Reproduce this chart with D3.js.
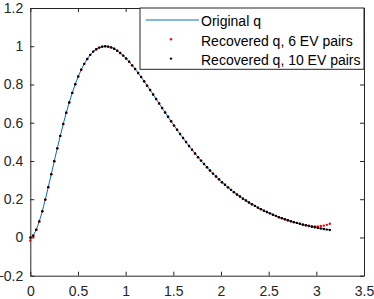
<!DOCTYPE html>
<html>
<head>
<meta charset="utf-8">
<script src="https://cdn.jsdelivr.net/npm/d3@7"></script>
<style>
  body { margin: 0; background: #fff; }
  svg { display: block; font-family: "Liberation Sans", Arial, Helvetica, sans-serif; }
</style>
</head>
<body>
<div id="chart"></div>
<script>
// sample grid: 101 points over [0, pi]
var nPts = 101,
    xMax = Math.PI;

// original potential q
var qOriginal = [
  0.000, 0.011, 0.040, 0.084, 0.137, 0.198, 0.263, 0.331, 0.399, 0.466,
  0.531, 0.593, 0.652, 0.706, 0.756, 0.801, 0.842, 0.877, 0.908, 0.933,
  0.955, 0.972, 0.984, 0.993, 0.998, 1.000, 0.998, 0.994, 0.987, 0.977,
  0.965, 0.951, 0.936, 0.919, 0.900, 0.881, 0.860, 0.839, 0.817, 0.794,
  0.771, 0.748, 0.724, 0.701, 0.677, 0.654, 0.631, 0.608, 0.585, 0.563,
  0.541, 0.520, 0.499, 0.478, 0.459, 0.439, 0.420, 0.402, 0.384, 0.367,
  0.350, 0.334, 0.319, 0.304, 0.289, 0.276, 0.262, 0.249, 0.237, 0.225,
  0.214, 0.203, 0.193, 0.183, 0.174, 0.165, 0.156, 0.148, 0.140, 0.133,
  0.126, 0.119, 0.113, 0.106, 0.101, 0.095, 0.090, 0.085, 0.080, 0.076,
  0.072, 0.067, 0.064, 0.060, 0.057, 0.053, 0.050, 0.047, 0.045, 0.042,
  0.040
];

// recovered with 6 eigenvalue pairs (drifts at both ends)
var q6 = [
  -0.016, 0.003, 0.040, 0.084, 0.137, 0.198, 0.263, 0.331, 0.399, 0.466,
  0.531, 0.593, 0.652, 0.706, 0.756, 0.801, 0.842, 0.877, 0.908, 0.933,
  0.955, 0.972, 0.984, 0.993, 0.998, 1.000, 0.998, 0.994, 0.987, 0.977,
  0.965, 0.951, 0.936, 0.919, 0.900, 0.881, 0.860, 0.839, 0.817, 0.794,
  0.771, 0.748, 0.724, 0.701, 0.677, 0.654, 0.631, 0.608, 0.585, 0.563,
  0.541, 0.520, 0.499, 0.478, 0.459, 0.439, 0.420, 0.402, 0.384, 0.367,
  0.350, 0.334, 0.319, 0.304, 0.289, 0.276, 0.262, 0.249, 0.237, 0.225,
  0.214, 0.203, 0.193, 0.183, 0.174, 0.165, 0.156, 0.148, 0.140, 0.133,
  0.126, 0.119, 0.113, 0.106, 0.101, 0.095, 0.090, 0.085, 0.080, 0.076,
  0.072, 0.068, 0.064, 0.061, 0.059, 0.058, 0.058, 0.060, 0.062, 0.066,
  0.072
];

// recovered with 10 eigenvalue pairs
var q10 = [
  0.000, 0.010, 0.040, 0.084, 0.137, 0.198, 0.263, 0.331, 0.399, 0.466,
  0.531, 0.593, 0.652, 0.706, 0.756, 0.801, 0.842, 0.877, 0.908, 0.933,
  0.955, 0.972, 0.984, 0.993, 0.998, 1.000, 0.998, 0.994, 0.987, 0.977,
  0.965, 0.951, 0.936, 0.919, 0.900, 0.881, 0.860, 0.839, 0.817, 0.794,
  0.771, 0.748, 0.724, 0.701, 0.677, 0.654, 0.631, 0.608, 0.585, 0.563,
  0.541, 0.520, 0.499, 0.478, 0.459, 0.439, 0.420, 0.402, 0.384, 0.367,
  0.350, 0.334, 0.319, 0.304, 0.289, 0.276, 0.262, 0.249, 0.237, 0.225,
  0.214, 0.203, 0.193, 0.183, 0.174, 0.165, 0.156, 0.148, 0.140, 0.133,
  0.126, 0.119, 0.113, 0.106, 0.101, 0.095, 0.090, 0.085, 0.080, 0.076,
  0.072, 0.067, 0.064, 0.060, 0.056, 0.053, 0.050, 0.047, 0.044, 0.041,
  0.039
];

var xTicks = [0, 0.5, 1, 1.5, 2, 2.5, 3, 3.5],
    yTicks = [-0.2, 0, 0.2, 0.4, 0.6, 0.8, 1, 1.2];

var legendLabels = ["Original q", "Recovered q, 6 EV pairs", "Recovered q, 10 EV pairs"];

var width = 374,
    height = 299,
    margin = { top: 8, right: 10, bottom: 23.3, left: 30.3 },
    innerWidth = width - margin.left - margin.right,
    innerHeight = height - margin.top - margin.bottom,
    axisColor = "#262626",
    blue = "#0072BD";

var xs = d3.range(nPts).map(function(i) { return i * xMax / (nPts - 1); });

var xScale = d3.scaleLinear().domain([0, 3.5]).range([0, innerWidth]),
    yScale = d3.scaleLinear().domain([-0.2, 1.2]).range([innerHeight, 0]);

var svg = d3.select("#chart").append("svg")
    .attr("width", width)
    .attr("height", height);

var g = svg.append("g")
    .attr("transform", "translate(" + margin.left + "," + margin.top + ")");

// axes, ticks pointing inward, box on all sides
var tickLen = 4;
var xAxis = g.append("g")
    .attr("transform", "translate(0," + innerHeight + ")")
    .call(d3.axisBottom(xScale).tickValues(xTicks).tickSizeInner(-tickLen).tickSizeOuter(0).tickPadding(10)
        .tickFormat(d3.format("")));
var yAxis = g.append("g")
    .call(d3.axisLeft(yScale).tickValues(yTicks).tickSizeInner(-tickLen).tickSizeOuter(0).tickPadding(7)
        .tickFormat(d3.format("")));
var xTop = g.append("g")
    .call(d3.axisTop(xScale).tickValues(xTicks).tickSizeInner(-tickLen).tickSizeOuter(0).tickFormat(""));
var yRight = g.append("g")
    .attr("transform", "translate(" + innerWidth + ",0)")
    .call(d3.axisRight(yScale).tickValues(yTicks).tickSizeInner(-tickLen).tickSizeOuter(0).tickFormat(""));

[xAxis, yAxis, xTop, yRight].forEach(function(a) {
    a.selectAll(".domain").attr("stroke", axisColor);
    a.selectAll(".tick line").attr("stroke", axisColor);
    a.selectAll(".tick text").attr("fill", axisColor).style("font-size", "14px");
});

// original curve
var line = d3.line()
    .x(function(d, i) { return xScale(xs[i]); })
    .y(function(d) { return yScale(d); });

g.append("path")
    .datum(qOriginal)
    .attr("fill", "none")
    .attr("stroke", blue)
    .attr("stroke-width", 1)
    .attr("d", line);

// recovered points
function dots(data, color) {
    g.append("g").selectAll("circle")
        .data(data)
        .enter().append("circle")
        .attr("cx", function(d, i) { return xScale(xs[i]); })
        .attr("cy", function(d) { return yScale(d); })
        .attr("r", 1.2)
        .attr("fill", color);
}
dots(q6, "#FF0000");
dots(q10, "#000000");

// legend (top right)
var lg = g.append("g").attr("transform", "translate(" + (140 - margin.left) + ",0)");
var lgW = innerWidth - (140 - margin.left);
lg.append("rect")
    .attr("x", 0).attr("y", 0)
    .attr("width", lgW).attr("height", 61.3)
    .attr("fill", "#fff")
    .attr("stroke", axisColor)
    .attr("stroke-width", 1);

var rowY = [12, 31.3, 50.6];
lg.append("line")
    .attr("x1", 5.7).attr("x2", 59)
    .attr("y1", rowY[0]).attr("y2", rowY[0])
    .attr("stroke", blue).attr("stroke-width", 1);
lg.append("circle").attr("cx", 31).attr("cy", rowY[1]).attr("r", 1.2).attr("fill", "#FF0000");
lg.append("circle").attr("cx", 31).attr("cy", rowY[2]).attr("r", 1.2).attr("fill", "#000000");

lg.selectAll("text.lab")
    .data(legendLabels)
    .enter().append("text")
    .attr("class", "lab")
    .attr("x", 61)
    .attr("y", function(d, i) { return rowY[i] + 6.3; })
    .style("font-size", "14px")
    .attr("fill", "#000")
    .text(function(d) { return d; });
</script>
</body>
</html>
